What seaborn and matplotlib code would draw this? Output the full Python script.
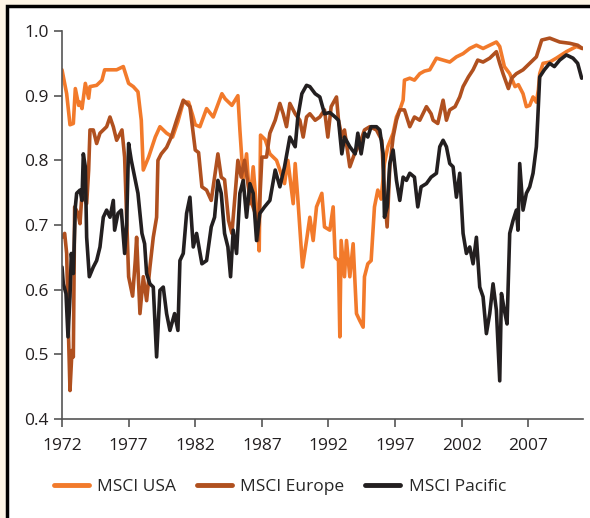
"""
Correlation of MSCI regional indices, 1972-2011.
"""
import seaborn as sns
import pandas as pd
import matplotlib.pyplot as plt
from matplotlib.patches import Rectangle

# Values.
usa_year = [1972.0, 1972.35, 1972.6, 1972.85, 1973.0, 1973.25, 1973.35, 1973.5, 1973.75, 1974.0,
            1974.1, 1974.6, 1975.0, 1975.2, 1976.1, 1976.6, 1977.0, 1977.35, 1977.7, 1977.95,
            1978.1, 1978.5, 1979.0, 1979.35, 1979.85, 1980.3, 1980.7, 1981.1, 1981.5, 1981.8,
            1982.0, 1982.35, 1982.85, 1983.35, 1984.0, 1984.25, 1984.75, 1985.2, 1985.35, 1985.6,
            1985.85, 1986.1, 1986.35, 1986.6, 1986.8, 1986.9, 1987.25, 1987.6, 1988.1, 1988.7,
            1988.95, 1989.35, 1989.5, 1989.7, 1990.05, 1990.35, 1990.6, 1990.85, 1991.1, 1991.5,
            1991.7, 1992.1, 1992.35, 1992.5, 1992.75, 1992.85, 1992.95, 1993.2, 1993.35, 1993.6,
            1993.85, 1994.1, 1994.35, 1994.6, 1994.7, 1994.95, 1995.2, 1995.45, 1995.7, 1995.95,
            1996.2, 1996.45, 1996.85, 1997.1, 1997.35, 1997.6, 1997.7, 1998.1, 1998.45, 1998.85,
            1999.2, 1999.6, 2000.1, 2000.6, 2001.1, 2001.6, 2002.1, 2002.6, 2003.1, 2003.6,
            2004.1, 2004.6, 2004.85, 2005.2, 2005.6, 2006.0, 2006.25, 2006.6, 2006.85, 2007.1,
            2007.35, 2007.6, 2007.75, 2007.85, 2008.1, 2008.6, 2009.1, 2009.85, 2010.6, 2011.05]
usa_val = [0.94, 0.903, 0.855, 0.857, 0.911, 0.885, 0.89, 0.88, 0.919, 0.896,
           0.914, 0.916, 0.924, 0.94, 0.94, 0.945, 0.919, 0.914, 0.906, 0.862,
           0.785, 0.805, 0.836, 0.852, 0.842, 0.836, 0.86, 0.89, 0.89, 0.87,
           0.855, 0.852, 0.88, 0.867, 0.903, 0.895, 0.885, 0.9, 0.847, 0.77,
           0.81, 0.733, 0.79, 0.725, 0.66, 0.839, 0.832, 0.81, 0.80, 0.764,
           0.80, 0.733, 0.795, 0.74, 0.635, 0.676, 0.712, 0.676, 0.728, 0.749,
           0.697, 0.692, 0.728, 0.65, 0.645, 0.527, 0.676, 0.62, 0.676, 0.62,
           0.671, 0.563, 0.552, 0.542, 0.62, 0.64, 0.645, 0.728, 0.754, 0.74,
           0.795, 0.821, 0.842, 0.867, 0.878, 0.893, 0.924, 0.927, 0.924, 0.934,
           0.938, 0.94, 0.958, 0.955, 0.952, 0.96, 0.965, 0.973, 0.978, 0.973,
           0.978, 0.983, 0.976, 0.945, 0.934, 0.914, 0.917, 0.903, 0.883, 0.885,
           0.898, 0.89, 0.909, 0.934, 0.95, 0.952, 0.958, 0.968, 0.976, 0.973]

europe_year = [1972.0, 1972.2, 1972.35, 1972.5, 1972.6, 1972.75, 1972.85, 1972.95, 1973.2, 1973.35,
               1973.5, 1973.85, 1974.0, 1974.1, 1974.35, 1974.6, 1974.85, 1975.1, 1975.35, 1975.6,
               1975.85, 1976.1, 1976.5, 1976.7, 1977.0, 1977.3, 1977.5, 1977.6, 1977.85, 1978.1,
               1978.35, 1978.6, 1978.85, 1979.1, 1979.2, 1979.45, 1979.85, 1980.2, 1980.6, 1981.1,
               1981.6, 1982.0, 1982.25, 1982.5, 1982.85, 1983.2, 1983.7, 1983.95, 1984.2, 1984.5,
               1984.75, 1985.0, 1985.2, 1985.45, 1985.7, 1986.1, 1986.5, 1986.7, 1987.0, 1987.35,
               1987.6, 1988.0, 1988.35, 1988.6, 1988.85, 1989.1, 1989.5, 1989.85, 1990.1, 1990.35,
               1990.6, 1991.0, 1991.35, 1991.7, 1991.95, 1992.2, 1992.6, 1992.75, 1993.0, 1993.2,
               1993.6, 1993.95, 1994.35, 1994.7, 1995.1, 1995.6, 1996.0, 1996.2, 1996.4, 1996.6,
               1996.85, 1997.1, 1997.35, 1997.7, 1998.1, 1998.45, 1998.85, 1999.35, 1999.7, 1999.85,
               2000.2, 2000.6, 2000.85, 2001.1, 2001.5, 2001.85, 2002.1, 2002.5, 2002.85, 2003.2,
               2003.6, 2004.1, 2004.6, 2004.85, 2005.1, 2005.5, 2005.75, 2006.1, 2006.6, 2007.1,
               2007.6, 2008.0, 2008.6, 2009.35, 2010.1, 2010.7, 2011.05]
europe_val = [0.681, 0.687, 0.656, 0.521, 0.444, 0.506, 0.496, 0.728, 0.718, 0.702,
              0.749, 0.733, 0.785, 0.847, 0.847, 0.826, 0.842, 0.847, 0.852, 0.867,
              0.852, 0.831, 0.847, 0.805, 0.62, 0.59, 0.645, 0.681, 0.563, 0.62,
              0.583, 0.635, 0.681, 0.712, 0.80, 0.81, 0.82, 0.836, 0.862, 0.893,
              0.883, 0.816, 0.812, 0.759, 0.754, 0.738, 0.81, 0.774, 0.77, 0.707,
              0.687, 0.749, 0.80, 0.774, 0.80, 0.743, 0.718, 0.676, 0.805, 0.805,
              0.842, 0.862, 0.888, 0.872, 0.852, 0.888, 0.872, 0.862, 0.836, 0.867,
              0.872, 0.862, 0.867, 0.878, 0.836, 0.883, 0.898, 0.862, 0.836, 0.847,
              0.79, 0.81, 0.826, 0.847, 0.852, 0.847, 0.831, 0.749, 0.697, 0.79,
              0.836, 0.862, 0.878, 0.878, 0.852, 0.867, 0.862, 0.883, 0.872, 0.862,
              0.857, 0.893, 0.862, 0.878, 0.883, 0.898, 0.914, 0.929, 0.94, 0.955,
              0.952, 0.958, 0.968, 0.95, 0.934, 0.911, 0.927, 0.934, 0.94, 0.95,
              0.96, 0.986, 0.989, 0.983, 0.981, 0.978, 0.973]

pacific_year = [1972.0, 1972.1, 1972.3, 1972.45, 1972.6, 1972.7, 1972.85, 1973.0, 1973.1, 1973.35,
                1973.5, 1973.6, 1973.75, 1973.85, 1974.05, 1974.35, 1974.6, 1974.85, 1975.1, 1975.35,
                1975.6, 1975.85, 1975.95, 1976.2, 1976.45, 1976.7, 1976.85, 1977.0, 1977.2, 1977.5,
                1977.7, 1978.0, 1978.2, 1978.35, 1978.6, 1978.85, 1979.1, 1979.35, 1979.6, 1979.85,
                1980.1, 1980.45, 1980.7, 1980.85, 1981.1, 1981.35, 1981.6, 1981.85, 1982.1, 1982.5,
                1982.85, 1983.2, 1983.45, 1983.7, 1983.95, 1984.2, 1984.45, 1984.65, 1984.85, 1985.1,
                1985.35, 1985.6, 1985.85, 1986.1, 1986.35, 1986.6, 1986.85, 1987.2, 1987.6, 1988.0,
                1988.35, 1988.7, 1989.1, 1989.5, 1989.7, 1990.0, 1990.35, 1990.6, 1991.0, 1991.35,
                1991.7, 1992.1, 1992.5, 1992.75, 1993.0, 1993.2, 1993.6, 1994.0, 1994.2, 1994.45,
                1994.7, 1994.95, 1995.2, 1995.6, 1995.85, 1996.1, 1996.2, 1996.4, 1996.6, 1996.85,
                1997.1, 1997.35, 1997.6, 1997.85, 1998.1, 1998.45, 1998.7, 1998.95, 1999.35, 1999.7,
                2000.1, 2000.35, 2000.6, 2000.85, 2001.1, 2001.35, 2001.6, 2001.85, 2002.1, 2002.35,
                2002.6, 2002.85, 2003.1, 2003.35, 2003.6, 2003.85, 2004.1, 2004.35, 2004.6, 2004.85,
                2004.98, 2005.2, 2005.4, 2005.6, 2005.85, 2006.1, 2006.22, 2006.35, 2006.6, 2006.85,
                2007.1, 2007.35, 2007.6, 2007.7, 2007.85, 2008.2, 2008.6, 2008.95, 2009.35, 2009.85,
                2010.35, 2010.7, 2011.0]
pacific_val = [0.635, 0.609, 0.594, 0.527, 0.589, 0.656, 0.625, 0.728, 0.749, 0.754,
               0.738, 0.81, 0.79, 0.681, 0.62, 0.635, 0.645, 0.666, 0.712, 0.723,
               0.712, 0.738, 0.692, 0.718, 0.723, 0.656, 0.70, 0.826, 0.80, 0.769,
               0.749, 0.687, 0.671, 0.625, 0.609, 0.604, 0.496, 0.599, 0.604, 0.563,
               0.537, 0.563, 0.537, 0.645, 0.656, 0.718, 0.743, 0.666, 0.687, 0.64,
               0.645, 0.697, 0.712, 0.769, 0.749, 0.687, 0.666, 0.62, 0.692, 0.656,
               0.749, 0.769, 0.712, 0.764, 0.749, 0.676, 0.718, 0.728, 0.738, 0.785,
               0.759, 0.79, 0.836, 0.821, 0.867, 0.903, 0.916, 0.914, 0.903, 0.898,
               0.872, 0.874, 0.867, 0.862, 0.81, 0.836, 0.821, 0.81, 0.842, 0.81,
               0.842, 0.836, 0.852, 0.852, 0.847, 0.81, 0.712, 0.728, 0.795, 0.816,
               0.769, 0.738, 0.774, 0.769, 0.78, 0.774, 0.728, 0.759, 0.764, 0.774,
               0.78, 0.821, 0.831, 0.821, 0.795, 0.79, 0.743, 0.78, 0.687, 0.656,
               0.666, 0.64, 0.681, 0.604, 0.589, 0.532, 0.563, 0.609, 0.568, 0.459,
               0.594, 0.568, 0.547, 0.687, 0.707, 0.723, 0.692, 0.795, 0.723, 0.749,
               0.759, 0.78, 0.821, 0.862, 0.929, 0.94, 0.95, 0.945, 0.955, 0.963,
               0.958, 0.95, 0.927]

series_names = ["MSCI USA", "MSCI Europe", "MSCI Pacific"]
series_colors = ["#F27A2B", "#B0501F", "#231F20"]
year_ticks = [1972, 1977, 1982, 1987, 1992, 1997, 2002, 2007]
value_ticks = [0.4, 0.5, 0.6, 0.7, 0.8, 0.9, 1.0]


def build_frame():
    frames = []
    for name, yrs, vals in zip(series_names,
                               [usa_year, europe_year, pacific_year],
                               [usa_val, europe_val, pacific_val]):
        frames.append(pd.DataFrame({"year": yrs, "value": vals, "index": name}))
    return pd.concat(frames, ignore_index=True)


def gen_plot():
    df = build_frame()

    sns.set_style("ticks")
    plt.rcParams["font.family"] = ["Open Sans", "DejaVu Sans"]

    fig = plt.figure(figsize=(5.9, 5.18), dpi=100)
    fig.patch.set_facecolor("#FDF5E6")

    # White panel with a black frame on the top and left edges.
    panel = Rectangle((7 / 590, -0.1), 1.2, 1.1 - 6 / 518,
                      transform=fig.transFigure, facecolor="white",
                      edgecolor="black", linewidth=2.5, zorder=-10)
    fig.patches.append(panel)

    ax = fig.add_axes([62 / 590, 1 - 419 / 518, (583 - 62) / 590, (419 - 31) / 518])
    ax.set_facecolor("none")
    ax.set_zorder(5)

    sns.lineplot(data=df, x="year", y="value", hue="index", palette=series_colors,
                 hue_order=series_names, estimator=None, linewidth=2.6, ax=ax,
                 legend=True)

    ax.set_xlim(1972, 2011.1)
    ax.set_ylim(0.4, 1.0)
    ax.set_xticks(year_ticks)
    ax.set_xticklabels([str(y) for y in year_ticks])
    ax.set_yticks(value_ticks)
    ax.set_yticklabels([f"{v:.1f}" for v in value_ticks])
    ax.set_xlabel("")
    ax.set_ylabel("")

    sns.despine(ax=ax)
    for side in ["left", "bottom"]:
        ax.spines[side].set_color("#555555")
        ax.spines[side].set_linewidth(1.2)
    ax.tick_params(axis="both", colors="#555555", length=6, width=1.2,
                   labelsize=12.5, labelcolor="#231F20")
    ax.tick_params(axis="x", pad=8)

    # Legend below the plot.
    handles, labels = ax.get_legend_handles_labels()
    ax.get_legend().remove()
    fig.legend(handles, labels, loc="center", bbox_to_anchor=(280 / 590, 1 - 487 / 518),
               ncol=3, frameon=False, fontsize=12.5, handlelength=2.0,
               handletextpad=0.5, columnspacing=1.2)
    for line in fig.legends[0].get_lines():
        line.set_linewidth(3.5)

    plt.savefig("out.png", dpi=100, facecolor=fig.get_facecolor())


if __name__ == "__main__":
    gen_plot()
